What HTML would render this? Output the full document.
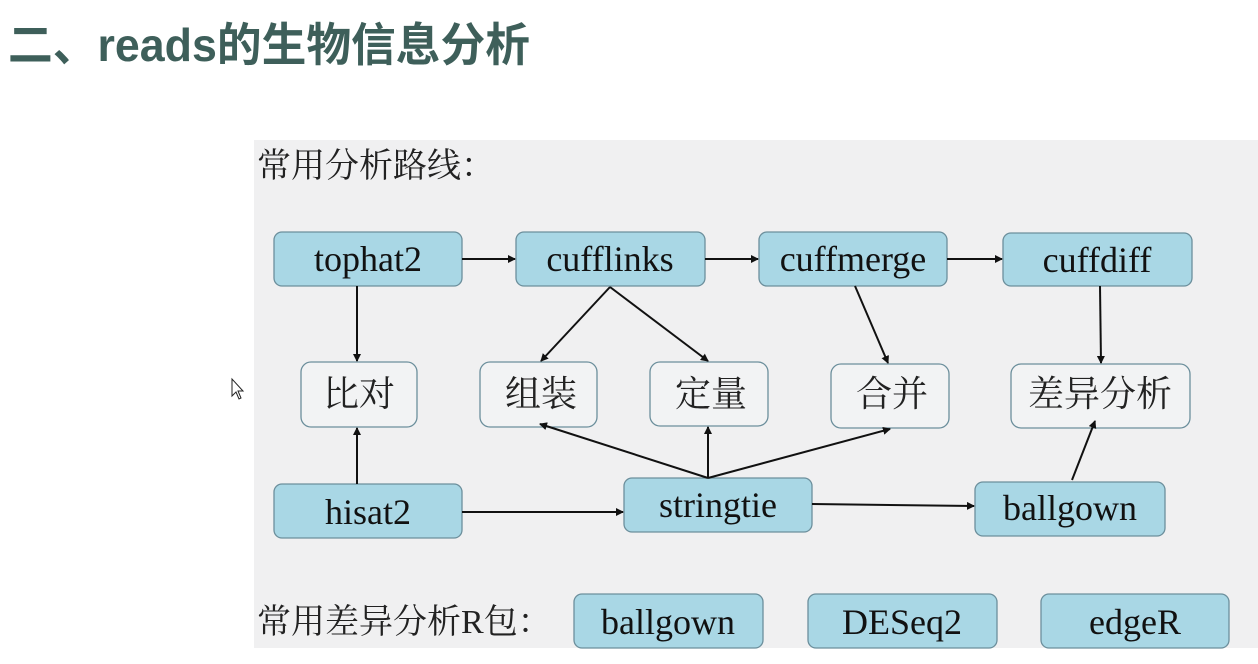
<!DOCTYPE html>
<html><head><meta charset="utf-8"><style>
html,body{margin:0;padding:0;background:#fff;width:1258px;height:664px;overflow:hidden}
svg{display:block}
.en{font-family:"Liberation Serif",serif;font-size:36px;fill:#111}
.zh{font-family:"Liberation Serif","Noto Serif CJK SC",serif;font-size:36px;fill:#222}
.zh2{font-family:"Noto Serif CJK SC",serif;font-size:34px;fill:#222}
.b{fill:#a9d7e5;stroke:#6c8f9c;stroke-width:1.3}
.w{fill:#f2f3f4;stroke:#6c8f9c;stroke-width:1.3}
line{stroke:#111;stroke-width:2;marker-end:url(#a)}
</style></head><body>
<svg width="1258" height="664" viewBox="0 0 1258 664">
<defs><marker id="a" markerWidth="8" markerHeight="8" refX="7" refY="4" orient="auto" markerUnits="userSpaceOnUse"><path d="M0,0 L8,4 L0,8 Z" fill="#111"/></marker></defs>
<text x="8" y="61" font-family="'Liberation Sans','Noto Sans CJK SC',sans-serif" font-weight="bold" font-size="46" fill="#3e5f5a" textLength="522" lengthAdjust="spacingAndGlyphs">二、reads的生物信息分析</text>
<rect x="254" y="140" width="1004" height="508" fill="#f0f0f1"/>
<text x="257" y="177" class="zh2">常用分析路线：</text>
<!-- top row -->
<rect class="b" x="274" y="232" width="188" height="54" rx="8"/><text class="en" x="368" y="271" text-anchor="middle">tophat2</text>
<rect class="b" x="516" y="232" width="189" height="54" rx="8"/><text class="en" x="610" y="271" text-anchor="middle">cufflinks</text>
<rect class="b" x="759" y="232" width="188" height="54" rx="8"/><text class="en" x="853" y="271" text-anchor="middle">cuffmerge</text>
<rect class="b" x="1003" y="233" width="189" height="53" rx="8"/><text class="en" x="1097" y="272" text-anchor="middle">cuffdiff</text>
<!-- middle -->
<rect class="w" x="301" y="362" width="116" height="65" rx="10"/><text class="zh" x="359" y="406" text-anchor="middle">比对</text>
<rect class="w" x="480" y="362" width="117" height="65" rx="10"/><text class="zh" x="505" y="406">组装</text>
<rect class="w" x="650" y="362" width="118" height="64" rx="10"/><text class="zh" x="675" y="406">定量</text>
<rect class="w" x="831" y="364" width="118" height="64" rx="10"/><text class="zh" x="856" y="406">合并</text>
<rect class="w" x="1011" y="364" width="179" height="64" rx="10"/><text class="zh" x="1028" y="406">差异分析</text>
<!-- bottom row -->
<rect class="b" x="274" y="484" width="188" height="54" rx="8"/><text class="en" x="368" y="524" text-anchor="middle">hisat2</text>
<rect class="b" x="624" y="478" width="188" height="54" rx="8"/><text class="en" x="718" y="517" text-anchor="middle">stringtie</text>
<rect class="b" x="975" y="482" width="190" height="54" rx="8"/><text class="en" x="1070" y="520" text-anchor="middle">ballgown</text>
<!-- packages -->
<text x="257" y="633" class="zh2">常用差异分析<tspan font-family="Liberation Serif">R</tspan>包：</text>
<rect class="b" x="574" y="594" width="189" height="54" rx="8"/><text class="en" x="668" y="634" text-anchor="middle">ballgown</text>
<rect class="b" x="808" y="594" width="189" height="54" rx="8"/><text class="en" x="902" y="634" text-anchor="middle">DESeq2</text>
<rect class="b" x="1041" y="594" width="188" height="54" rx="8"/><text class="en" x="1135" y="634" text-anchor="middle">edgeR</text>
<!-- arrows -->
<line x1="462" y1="259" x2="515" y2="259"/>
<line x1="705" y1="259" x2="758" y2="259"/>
<line x1="947" y1="259" x2="1002" y2="259"/>
<line x1="357" y1="286" x2="357" y2="361"/>
<line x1="610" y1="287" x2="541" y2="361"/>
<line x1="610" y1="287" x2="708" y2="361"/>
<line x1="855" y1="286" x2="888" y2="363"/>
<line x1="1100" y1="286" x2="1101" y2="363"/>
<line x1="357" y1="484" x2="357" y2="428"/>
<line x1="462" y1="512" x2="623" y2="512"/>
<line x1="708" y1="478" x2="540" y2="424"/>
<line x1="708" y1="478" x2="708" y2="427"/>
<line x1="708" y1="478" x2="890" y2="429"/>
<line x1="812" y1="504" x2="974" y2="506"/>
<line x1="1072" y1="480" x2="1095" y2="421"/>
<!-- cursor -->
<path d="M232,379 L232,396 L236,392 L239,399 L241,398 L238,391 L243,391 Z" fill="#fff" stroke="#222" stroke-width="1"/>
</svg>
</body></html>
